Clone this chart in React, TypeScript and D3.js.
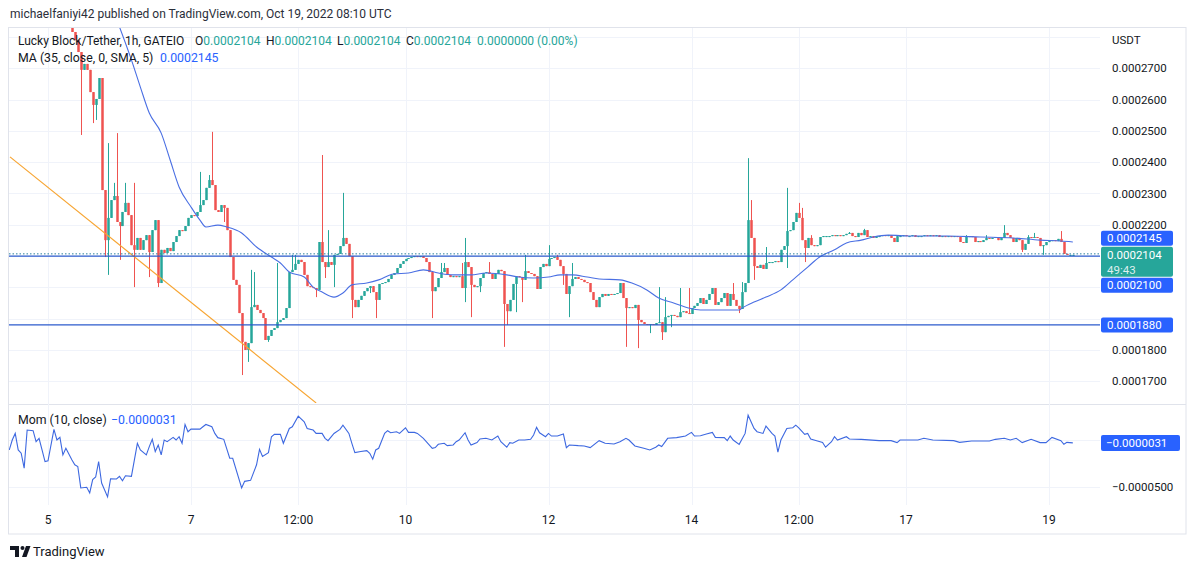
import React from "react";
import * as d3 from "d3";

// ---------- data (prices in units of 1e-7 USDT) ----------
const UNIT = 1e-7;
const DAY0 = Date.UTC(2022, 9, 5); // Oct 5 2022 00:00 UTC
const FIRST_BAR_HOUR = 8; // first visible hourly candle: Oct 5 08:00
const FIRST_OPEN = 2860;

const CLOSES = [
  2816, 2790, 2752, 2695, 2714, 2695, 2624, 2583, 2602, 2669,
  2311, 2151, 2222, 2279, 2292, 2209, 2196, 2241, 2270, 2231,
  2135, 2120, 2158, 2120, 2151, 2167, 2113, 2183, 2215, 2014,
  2120, 2110, 2126, 2116, 2145, 2164, 2183, 2180, 2196, 2222,
  2231, 2228, 2241, 2263, 2279, 2318, 2343, 2327, 2247, 2241,
  2263, 2254, 2183, 2097, 2024, 2008, 1918, 1826, 1800, 1822,
  1937, 1944, 1928, 1918, 1902, 1832, 1845, 1864, 1870, 1889,
  1896, 1902, 1934, 2049, 2056, 2075, 2088, 2081, 2040, 2004,
  2001, 1998, 1992, 2145, 2081, 2065, 2081, 2072, 2104, 2107,
  2132, 2158, 2139, 2100, 1960, 1937, 1960, 1973, 1988, 1998,
  2004, 1985, 1960, 2011, 2014, 2017, 2027, 2040, 2046, 2062,
  2075, 2084, 2091, 2094, 2097, 2100, 2097, 2100, 2094, 2081,
  2049, 1988, 2001, 2030, 2049, 2062, 2040, 2033, 2036, 2033,
  2036, 1998, 2081, 2065, 2008, 2001, 2004, 2030, 2046, 2049,
  2043, 2027, 2043, 2056, 2052, 1947, 1924, 1960, 2011, 2036,
  2033, 2024, 2052, 2046, 2043, 2036, 1995, 2065, 2075, 2068,
  2091, 2094, 2097, 2088, 2068, 2043, 1979, 2004, 2027, 2033,
  2027, 2024, 2017, 2014, 1985, 1960, 1937, 1969, 1979, 1973,
  1979, 1976, 1979, 1982, 2014, 1966, 1934, 1937, 1934, 1944,
  1896, 1889, 1883, 1880, 1883, 1880, 1886, 1889, 1857, 1905,
  1909, 1912, 1909, 1905, 1921, 1924, 1918, 1915, 1934, 1941,
  1950, 1966, 1947, 1960, 1979, 1998, 1944, 1953, 1966, 1982,
  1941, 1979, 1960, 1941, 1931, 1985, 2014, 2215, 2158, 2068,
  2062, 2072, 2059, 2078, 2081, 2081, 2084, 2081, 2120, 2132,
  2180, 2183, 2209, 2238, 2222, 2151, 2126, 2158, 2135, 2132,
  2135, 2161, 2164, 2164, 2164, 2167, 2164, 2167, 2164, 2167,
  2171, 2174, 2164, 2161, 2174, 2167, 2183, 2161, 2164, 2158,
  2164, 2164, 2167, 2164, 2167, 2158, 2145, 2164, 2164, 2167,
  2164, 2164, 2167, 2161, 2164, 2164, 2167, 2164, 2167, 2164,
  2167, 2161, 2164, 2161, 2164, 2161, 2164, 2161, 2145, 2142,
  2161, 2164, 2161, 2145, 2148, 2145, 2151, 2158, 2155, 2158,
  2161, 2151, 2158, 2174, 2167, 2158, 2145, 2158, 2151, 2120,
  2139, 2161, 2158, 2161, 2158, 2132, 2135, 2145, 2148, 2151,
  2148, 2155, 2145, 2107, 2104, 2104, 2104,
];

// [bar index, wick extreme]
const HIGH_WICKS: [number, number][] = [
  [12, 2461], [14, 2334], [15, 2493], [18, 2334], [21, 2334], [43, 2369], [46, 2359], [47, 2497],
  [60, 2056], [61, 2049], [69, 2078], [74, 2104], [75, 2104], [84, 2423], [86, 2183], [91, 2302],
  [124, 2078], [125, 2078], [131, 2078], [132, 2158], [140, 2081], [152, 2104], [160, 2135],
  [163, 2104], [168, 2078], [197, 2001], [199, 1969], [204, 1998], [207, 1998], [222, 2014],
  [225, 2017], [227, 2413], [228, 2279], [233, 2129], [240, 2318], [244, 2270], [245, 2254],
  [248, 2167], [261, 2177], [266, 2187], [300, 2167], [307, 2167], [313, 2199], [321, 2167],
  [323, 2174], [332, 2180],
];
const LOW_WICKS: [number, number][] = [
  [3, 2487], [7, 2525], [8, 2535], [11, 2097], [12, 2040], [16, 2088], [21, 2001], [26, 2033],
  [29, 2001], [51, 2209], [57, 1720], [59, 1762], [66, 1826], [82, 1969], [85, 2030], [88, 2001],
  [94, 1902], [100, 1982], [102, 1902], [121, 1902], [132, 1953], [134, 1905], [137, 1985],
  [145, 1810], [146, 1880], [149, 1921], [151, 1953], [165, 2008], [167, 1905], [186, 1810],
  [190, 1806], [194, 1854], [198, 1832], [201, 1873], [224, 1918], [229, 2024], [240, 2062],
  [246, 2081], [319, 2113], [326, 2104],
];

// MA (35) line, hours since Oct 5 00:00
const MA_HOURS = [24, 28, 31, 34, 38, 41, 44, 48, 51, 53, 57, 60, 65, 70, 75, 78, 81, 86, 89, 92, 96, 99,
  102, 107, 111, 116, 121, 126, 131, 136, 142, 147, 154, 158, 163, 168, 172, 176, 181, 185, 192, 196,
  201, 205, 210, 215, 219, 226, 232, 233, 237, 241, 246, 250, 255, 259, 264, 268, 273, 277, 282, 290,
  302, 313, 324, 333, 340, 344];
const MA_VALUES = [2832, 2727, 2640, 2557, 2493, 2407, 2321, 2257, 2215, 2193, 2199, 2193, 2174, 2129,
  2097, 2078, 2049, 2033, 2001, 1985, 1969, 1982, 2008, 2014, 2024, 2043, 2046, 2056, 2046, 2040, 2040,
  2046, 2040, 2033, 2030, 2033, 2040, 2040, 2033, 2027, 2024, 2014, 1992, 1966, 1950, 1934, 1928, 1928,
  1928, 1934, 1953, 1969, 1992, 2024, 2065, 2097, 2120, 2142, 2151, 2161, 2167, 2164, 2164, 2161, 2158,
  2151, 2148, 2145];

// Momentum (10), hours since Oct 5 00:00
const MOM_HOURS = [-13, -12, -11, -10, -9, -8, -7, -5, -4, -3, -2, -1, 0, 2, 3, 4, 5, 6, 8, 9, 10, 11, 13,
  14, 15, 16, 17, 18, 20, 21, 23, 24, 25, 26, 28, 30, 31, 33, 34, 35, 36, 37, 38, 39, 40, 42, 43, 44, 45,
  46, 47, 48, 51, 52, 53, 55, 56, 57, 59, 61, 62, 65, 66, 68, 70, 71, 72, 74, 75, 76, 78, 79, 81, 82, 84,
  86, 87, 89, 90, 92, 93, 94, 96, 98, 99, 101, 102, 103, 105, 107, 108, 109, 110, 111, 113, 114, 115,
  117, 118, 120, 121, 123, 124, 126, 129, 130, 131, 133, 134, 136, 137, 138, 140, 141, 142, 144, 145,
  147, 149, 151, 152, 154, 155, 156, 158, 160, 162, 163, 164, 165, 167, 168, 169, 171, 173, 174, 175,
  178, 180, 182, 185, 187, 190, 192, 194, 195, 197, 200, 202, 204, 205, 206, 208, 211, 214, 216, 217,
  219, 221, 223, 224, 227, 228, 229, 230, 232, 234, 235, 237, 238, 240, 241, 243, 244, 245, 246, 248,
  250, 251, 252, 254, 255, 256, 258, 260, 261, 263, 264, 265, 268, 269, 273, 279, 283, 285, 286, 292,
  294, 297, 304, 306, 310, 316, 318, 321, 323, 325, 327, 330, 333, 335, 337, 340, 341, 342, 344];
const MOM_VALUES = [-106, 0, 70, -106, -141, -299, 106, 99, -18, 18, -106, -229, -222, 113, 0, 28, -158,
  -88, -211, -264, -282, -510, -503, -563, -422, -394, -229, -458, -605, -412, -415, -387, -433, -380,
  -387, -35, -106, -158, -70, 7, -123, -53, -158, 0, -18, 28, 0, 35, -35, 165, 88, 116, 116, 141, 165,
  141, 70, 25, 7, -194, -194, -510, -440, -429, -264, -99, -176, -134, 35, 60, 60, -35, 123, 141, 253,
  194, 123, 106, 70, 70, 18, -7, 70, 113, 158, 70, -35, -134, -123, -113, -141, -204, -106, -88, 70, 99,
  77, 88, 70, 130, 81, 81, 70, 18, -88, -81, -46, -35, -60, -53, -18, 0, 77, 0, -53, -28, 11, 18, 0, 42,
  -18, -77, -28, -35, 0, 0, 7, 53, 134, 77, 35, 70, 42, 42, 63, -81, -53, -60, -63, -81, -7, -35, -42,
  -18, 18, 0, -63, -88, -106, -77, -53, -70, 18, 25, 42, 81, 42, 46, 63, 81, 28, 25, -7, 42, 0, -46, 70,
  264, 123, 88, 70, 148, 70, 42, -130, 0, 123, 130, 158, 130, 60, 70, 11, -7, -25, -77, -18, 35, 0, 35,
  11, 7, -7, -7, -28, 0, 0, 18, 0, -7, -25, -11, -11, 7, 18, 0, 18, -28, 7, -28, -28, 28, -7, -46, -25,
  -31];

const TIME_TICK_HOURS = [0, 48, 84, 120, 168, 216, 252, 288, 336];
const TIME_TICK_LABELS = ["5", "7", "12:00", "10", "12", "14", "12:00", "17", "19"];
const PRICE_TICKS = [0.00017, 0.00018, 0.00019, 0.0002, 0.00021, 0.00022, 0.00023, 0.00024, 0.00025, 0.00026, 0.00027];
const PRICE_GRID = [...PRICE_TICKS, 0.00028];
const MOM_TICKS = [0, -0.00005];
const LAST_PRICE = 0.0002104;
const MA_LAST = 0.0002145;
const MOM_LAST = -0.0000031;
const H_LINES = [0.00021, 0.000188];
const TREND_HOURS = [-12.76, 90];
const TREND_PRICES = [0.0002417, 0.0001631];

// ---------- layout ----------
const W = 1194, H = 570;
const L = 9, R = 1100, FR = 1186;
const MAIN_TOP = 28, MAIN_BOT = 403;
const MOM_TOP = 405, MOM_BOT = 505;
const FONT = "Roboto, 'Noto Sans', sans-serif";
const TXT = "#131722";
const UP = "#26a69a", DOWN = "#ef5350", BLUE = "#2962ff";

const hourDate = (h: number) => new Date(DAY0 + h * 3600e3);

export default function App() {
  const x = d3.scaleUtc().domain([hourDate(0), hourDate(336)]).range([48, 1049]);
  const y = d3.scaleLinear().domain([0.00017, 0.00028]).range([381.3, 37.0]);
  const ym = d3.scaleLinear().domain([-0.00005, 0]).range([487, 440]);
  const fmt = d3.format(".7f");

  const hiMap = new Map(HIGH_WICKS);
  const loMap = new Map(LOW_WICKS);
  const bars = CLOSES.map((c, i) => {
    const o = i === 0 ? FIRST_OPEN : CLOSES[i - 1];
    const hi = hiMap.get(i) ?? Math.max(o, c);
    const lo = loMap.get(i) ?? Math.min(o, c);
    return { t: hourDate(FIRST_BAR_HOUR + i), o: o * UNIT, c: c * UNIT, h: hi * UNIT, l: lo * UNIT };
  });

  const maLine = d3.line<number>()
    .x((_, i) => x(hourDate(MA_HOURS[i])))
    .y((v) => y(v * UNIT))
    .curve(d3.curveMonotoneX)(MA_VALUES) || "";
  const momLine = d3.line<number>()
    .x((_, i) => x(hourDate(MOM_HOURS[i])))
    .y((v) => ym(v * UNIT))(MOM_VALUES) || "";
  const trend = d3.line<number>()
    .x((_, i) => x(hourDate(TREND_HOURS[i])))
    .y((v) => y(v))(TREND_PRICES) || "";

  // price-axis labels
  const lastY = y(LAST_PRICE);
  const tealTop = lastY - 8, tealBot = lastY + 22;
  const boxH = 15;
  const placeLabel = (p: number) => {
    const cy = y(p);
    let top = cy - boxH / 2;
    if (top + boxH > tealTop && top < tealBot) {
      if (cy < lastY) top = tealTop - 1 - boxH; else top = tealBot + 1;
    }
    return top;
  };
  const blueLabels = [MA_LAST, ...H_LINES].map((p) => ({ p, top: placeLabel(p) }));
  const covered: [number, number][] = [[tealTop, tealBot], ...blueLabels.map((b) => [b.top, b.top + boxH] as [number, number])];
  const isCovered = (yy: number, boxes: [number, number][]) => boxes.some(([a, b]) => yy > a - 3 && yy < b + 3);
  const momBox: [number, number] = [ym(MOM_LAST) - 8, ym(MOM_LAST) + 8];

  return (
    <svg width={W} height={H} style={{ position: "absolute", left: 0, top: 0, background: "#fff" }}
      fontFamily={FONT}>
      <defs>
        <clipPath id="mainClip"><rect x={L} y={MAIN_TOP} width={R - L} height={MAIN_BOT - MAIN_TOP} /></clipPath>
        <clipPath id="momClip"><rect x={L} y={MOM_TOP} width={R - L} height={MOM_BOT - MOM_TOP} /></clipPath>
      </defs>
      <rect width={W} height={H} fill="#fff" />
      <text x={10} y={18} fontSize={12} fill="#2a2e39">michaelfaniyi42 published on TradingView.com, Oct 19, 2022 08:10 UTC</text>

      {/* frame */}
      <rect x={8.5} y={27.5} width={FR - 8.5} height={534 - 27.5} fill="none" stroke="#e0e3eb" />
      <line x1={8.5} x2={FR} y1={404.5} y2={404.5} stroke="#e0e3eb" />

      {/* grid */}
      {TIME_TICK_HOURS.map((h, i) => (
        <line key={"vg" + i} x1={Math.round(x(hourDate(h))) + 0.5} x2={Math.round(x(hourDate(h))) + 0.5}
          y1={MAIN_TOP} y2={MOM_BOT} stroke="#f0f3fa" />
      ))}
      {PRICE_GRID.map((p, i) => (
        <line key={"hg" + i} x1={L} x2={R} y1={Math.round(y(p)) + 0.5} y2={Math.round(y(p)) + 0.5} stroke="#f0f3fa" />
      ))}
      {MOM_TICKS.map((v, i) => (
        <line key={"mg" + i} x1={L} x2={R} y1={Math.round(ym(v)) + 0.5} y2={Math.round(ym(v)) + 0.5} stroke="#f0f3fa" />
      ))}

      {/* main pane */}
      <g clipPath="url(#mainClip)">
        {bars.map((b, i) => {
          const cx = Math.round(x(b.t));
          const up = b.c >= b.o;
          const col = up ? UP : DOWN;
          const yT = y(Math.max(b.o, b.c));
          const yB = y(Math.min(b.o, b.c));
          return (
            <g key={i}>
              <rect x={cx} y={y(b.h)} width={1} height={Math.max(1, y(b.l) - y(b.h))} fill={col} />
              <rect x={cx - 0.75} y={yT} width={2.5} height={Math.max(1, yB - yT)} fill={col} />
            </g>
          );
        })}
        <path d={maLine} fill="none" stroke="#4a6fe3" strokeWidth={1.1} />
        <path d={trend} fill="none" stroke="#f7a532" strokeWidth={1.2} />
        {H_LINES.map((p, i) => (
          <line key={"hl" + i} x1={L} x2={R} y1={y(p)} y2={y(p)} stroke="#2d5bcc" strokeWidth={1.2} />
        ))}
        <line x1={L} x2={R} y1={lastY - 1} y2={lastY - 1} stroke="#2a7f9e" strokeWidth={1} strokeDasharray="1.5 2" />
      </g>

      {/* momentum pane */}
      <g clipPath="url(#momClip)">
        <path d={momLine} fill="none" stroke="#3d68e0" strokeWidth={1.1} />
      </g>

      {/* legends */}
      <text x={18} y={45} fontSize={12} fill={TXT}>
        Lucky Block/Tether, 1h, GATEIO
        <tspan x={195}>O</tspan><tspan fill={UP}>{fmt(LAST_PRICE)}</tspan>
        <tspan x={266}>H</tspan><tspan fill={UP}>{fmt(LAST_PRICE)}</tspan>
        <tspan x={337}>L</tspan><tspan fill={UP}>{fmt(LAST_PRICE)}</tspan>
        <tspan x={406}>C</tspan><tspan fill={UP}>{fmt(LAST_PRICE)}</tspan>
        <tspan x={477} fill={UP}>0.0000000 (0.00%)</tspan>
      </text>
      <text x={18} y={62} fontSize={12.3} fill={TXT}>
        MA (35, close, 0, SMA, 5)<tspan x={160} fill={BLUE}>{fmt(MA_LAST)}</tspan>
      </text>
      <text x={18} y={424} fontSize={12.3} fill={TXT}>
        Mom (10, close)<tspan x={111} fill={BLUE}>{"\u2212" + fmt(Math.abs(MOM_LAST))}</tspan>
      </text>

      {/* price axis */}
      <text x={1112} y={44} fontSize={11.5} fill={TXT}>USDT</text>
      {PRICE_TICKS.filter((p) => !isCovered(y(p), covered)).map((p, i) => (
        <text key={"pt" + i} x={1112} y={y(p)} dy="0.35em" fontSize={11.5} fill={TXT}>{fmt(p)}</text>
      ))}
      {MOM_TICKS.filter((v) => !isCovered(ym(v), [momBox])).map((v, i) => (
        <text key={"mt" + i} x={1112} y={ym(v)} dy="0.35em" fontSize={11.5} fill={TXT}>
          {v < 0 ? "\u2212" + fmt(-v) : fmt(v)}
        </text>
      ))}
      {blueLabels.map((b, i) => (
        <g key={"bl" + i}>
          <rect x={1101} y={b.top} width={72} height={boxH} rx={2} fill={BLUE} />
          <text x={1107} y={b.top + boxH / 2} dy="0.35em" fontSize={11.5} fill="#fff">{fmt(b.p)}</text>
        </g>
      ))}
      <rect x={1101} y={tealTop} width={72} height={tealBot - tealTop} rx={2} fill={UP} />
      <text x={1107} y={lastY} dy="0.35em" fontSize={11.5} fill="#fff">{fmt(LAST_PRICE)}</text>
      <text x={1107} y={lastY + 15} dy="0.35em" fontSize={11.5} fill="#fff" fillOpacity={0.85}>49:43</text>
      <rect x={1101} y={momBox[0]} width={79} height={16} rx={2} fill={BLUE} />
      <text x={1106} y={ym(MOM_LAST)} dy="0.35em" fontSize={11.5} fill="#fff">{"\u2212" + fmt(Math.abs(MOM_LAST))}</text>

      {/* time axis */}
      {TIME_TICK_HOURS.map((h, i) => (
        <text key={"tt" + i} x={x(hourDate(h))} y={520} dy="0.35em" textAnchor="middle" fontSize={12} fill={TXT}>
          {TIME_TICK_LABELS[i]}
        </text>
      ))}

      {/* logo */}
      <g fill="#131722">
        <path d="M10 546 h9 v11 h-4 v-7 h-5 z" />
        <circle cx={22.5} cy={548} r={2} />
        <path d="M26 546 h4.5 l-4 11 h-4.5 z" />
      </g>
      <text x={33} y={556} fontSize={13} fill="#131722">TradingView</text>
    </svg>
  );
}
